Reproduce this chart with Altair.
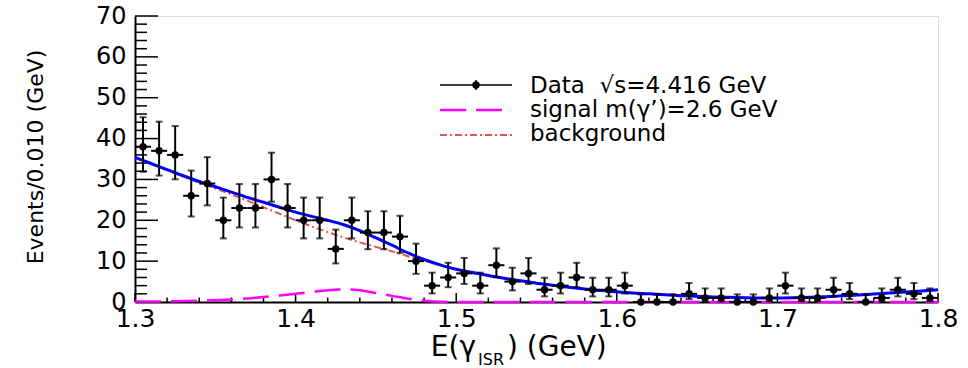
import altair as alt
import pandas as pd
import numpy as np

# ---------------- data ----------------
bin_centers = [1.305, 1.315, 1.325, 1.335, 1.345, 1.355, 1.365, 1.375, 1.385, 1.395,
               1.405, 1.415, 1.425, 1.435, 1.445, 1.455, 1.465, 1.475, 1.485, 1.495,
               1.505, 1.515, 1.525, 1.535, 1.545, 1.555, 1.565, 1.575, 1.585, 1.595,
               1.605, 1.615, 1.625, 1.635, 1.645, 1.655, 1.665, 1.675, 1.685, 1.695,
               1.705, 1.715, 1.725, 1.735, 1.745, 1.755, 1.765, 1.775, 1.785, 1.795]
counts = [38, 37, 36, 26, 29, 20, 23, 23, 30, 23,
          20, 20, 13, 20, 17, 17, 16, 10, 4, 6,
          7, 4, 9, 5, 7, 3, 4, 6, 3, 3,
          4, 0, 0, 0, 2, 1, 1, 0, 0, 1,
          4, 1, 1, 3, 2, 0, 1, 3, 2, 1]

curve_x = [1.30, 1.31, 1.32, 1.33, 1.34, 1.35, 1.36, 1.37, 1.38, 1.39,
           1.40, 1.41, 1.42, 1.43, 1.44, 1.45, 1.46, 1.47, 1.48, 1.49,
           1.50, 1.51, 1.52, 1.53, 1.54, 1.55, 1.56, 1.57, 1.58, 1.59,
           1.60, 1.61, 1.62, 1.63, 1.64, 1.65, 1.66, 1.67, 1.68, 1.69,
           1.70, 1.71, 1.72, 1.73, 1.74, 1.75, 1.76, 1.77, 1.78, 1.79, 1.80]
total_fit = [35.4, 33.9, 32.4, 30.9, 29.5, 28.2, 26.9, 25.6, 24.4, 23.2,
             22.0, 20.95, 20.0, 18.9, 17.45, 15.7, 13.9, 12.0, 10.4, 9.1,
             8.0, 7.2, 6.5, 5.8, 5.2, 4.6, 4.1, 3.6, 3.2, 2.8,
             2.5, 2.2, 2.0, 1.75, 1.55, 1.4, 1.25, 1.15, 1.05, 1.0,
             1.0, 1.05, 1.15, 1.3, 1.5, 1.7, 1.95, 2.2, 2.45, 2.7, 3.0]
background = [35.3, 33.8, 32.2, 30.7, 29.2, 27.8, 26.3, 24.8, 23.2, 21.6,
              20.0, 18.5, 17.1, 15.8, 14.6, 13.5, 12.4, 11.2, 10.1, 9.0,
              8.0, 7.2, 6.5, 5.8, 5.2, 4.6, 4.1, 3.6, 3.2, 2.8,
              2.5, 2.2, 2.0, 1.75, 1.55, 1.4, 1.25, 1.15, 1.05, 1.0,
              1.0, 1.05, 1.15, 1.3, 1.5, 1.7, 1.95, 2.2, 2.45, 2.7, 3.0]
signal = [0.1, 0.12, 0.16, 0.22, 0.3, 0.42, 0.6, 0.85, 1.2, 1.6,
          2.0, 2.45, 2.9, 3.1, 2.85, 2.2, 1.5, 0.8, 0.3, 0.08,
          0.0, 0.0, 0.0, 0.0, 0.0, 0.0, 0.0, 0.0, 0.0, 0.0,
          0.0, 0.0, 0.0, 0.0, 0.0, 0.0, 0.0, 0.0, 0.0, 0.0,
          0.0, 0.0, 0.0, 0.0, 0.0, 0.0, 0.0, 0.0, 0.0, 0.0, 0.0]

legend_labels = ["Data\u00a0\u00a0\u221as=4.416 GeV", "signal m(\u03b3\u2019)=2.6 GeV", "background"]

y_major = [0, 10, 20, 30, 40, 50, 60, 70]
y_minor = [v for v in range(0, 71, 2) if v % 10 != 0]
x_major = [1.3, 1.4, 1.5, 1.6, 1.7, 1.8]
x_minor = [1.32, 1.34, 1.36, 1.38, 1.42, 1.44, 1.46, 1.48, 1.52, 1.54, 1.56, 1.58,
           1.62, 1.64, 1.66, 1.68, 1.72, 1.74, 1.76, 1.78]
bin_half_width = 0.005

# Poisson (Gehrels 1-sigma) error bars, as drawn for the data histogram
cnt = np.array(counts, dtype=float)
err_hi = cnt + 1.0 + np.sqrt(cnt + 0.75)
safe = np.maximum(cnt, 1)
err_lo = np.where(cnt > 0, cnt * (1 - 1 / (9 * safe) - 1 / (3 * np.sqrt(safe))) ** 3, 0.0)

data_df = pd.DataFrame({
    "x": bin_centers, "n": counts, "lo": err_lo, "hi": err_hi,
    "xl": np.array(bin_centers) - bin_half_width, "xr": np.array(bin_centers) + bin_half_width,
})
curve_df = pd.DataFrame({"x": curve_x, "total": total_fit, "bg": background, "sig": signal})

W, H = 803, 286
FONT = "DejaVu Sans"

xscale = alt.Scale(domain=[1.3, 1.8], nice=False, zero=False)
yscale = alt.Scale(domain=[0, 70], nice=False)

xaxis = alt.Axis(values=x_major, format=".1f", ticks=False, grid=False, title=None,
                 labelFont=FONT, labelFontSize=25, labelPadding=4, labelColor="black",
                 domainColor="black", domainWidth=2, labelFlush=False)
yaxis = alt.Axis(values=y_major, format="d", ticks=False, grid=False, title=None,
                 labelFont=FONT, labelFontSize=24, labelPadding=9, labelColor="black",
                 domainColor="black", domainWidth=2)

base = alt.Chart(data_df)

# invisible layer carrying axes
axes_layer = alt.Chart(curve_df).mark_line(opacity=0).encode(
    x=alt.X("x:Q", scale=xscale, axis=xaxis),
    y=alt.Y("total:Q", scale=yscale, axis=yaxis),
)

# inside ticks
ymaj = alt.Chart(pd.DataFrame({"v": y_major})).mark_rule(color="black", strokeWidth=1.5).encode(
    y=alt.Y("v:Q", scale=yscale), x=alt.value(0), x2=alt.value(23))
ymin = alt.Chart(pd.DataFrame({"v": y_minor})).mark_rule(color="black", strokeWidth=1.5).encode(
    y=alt.Y("v:Q", scale=yscale), x=alt.value(0), x2=alt.value(12))
xmaj = alt.Chart(pd.DataFrame({"v": x_major})).mark_rule(color="black", strokeWidth=1.5).encode(
    x=alt.X("v:Q", scale=xscale), y=alt.value(H), y2=alt.value(H - 9))
xmin = alt.Chart(pd.DataFrame({"v": x_minor})).mark_rule(color="black", strokeWidth=1.5).encode(
    x=alt.X("v:Q", scale=xscale), y=alt.value(H), y2=alt.value(H - 4.5))

# fit curves
bg_line = alt.Chart(curve_df).mark_line(color="#e05555", strokeWidth=2, strokeDash=[7, 3, 2, 3],
                                        interpolate="monotone").encode(
    x=alt.X("x:Q", scale=xscale), y=alt.Y("bg:Q", scale=yscale))
sig_line = alt.Chart(curve_df).mark_line(color="#ff00ff", strokeWidth=2.5, strokeDash=[26, 10],
                                         interpolate="monotone").encode(
    x=alt.X("x:Q", scale=xscale), y=alt.Y("sig:Q", scale=yscale))
tot_line = alt.Chart(curve_df).mark_line(color="#0000ff", strokeWidth=3,
                                         interpolate="monotone").encode(
    x=alt.X("x:Q", scale=xscale), y=alt.Y("total:Q", scale=yscale))

# data points with error bars
vbars = base.mark_rule(color="black", strokeWidth=2).encode(
    x=alt.X("x:Q", scale=xscale), y=alt.Y("lo:Q", scale=yscale), y2="hi:Q")
hbars = base.mark_rule(color="black", strokeWidth=2).encode(
    x=alt.X("xl:Q", scale=xscale), x2="xr:Q", y=alt.Y("n:Q", scale=yscale))
cap_hi = base.mark_tick(color="black", orient="horizontal", size=7, thickness=2).encode(
    x=alt.X("x:Q", scale=xscale), y=alt.Y("hi:Q", scale=yscale))
cap_lo = base.mark_tick(color="black", orient="horizontal", size=7, thickness=2).encode(
    x=alt.X("x:Q", scale=xscale), y=alt.Y("lo:Q", scale=yscale))
pts = base.mark_circle(color="black", size=55, opacity=1).encode(
    x=alt.X("x:Q", scale=xscale), y=alt.Y("n:Q", scale=yscale))

# legend (drawn manually, ROOT-style)
one = pd.DataFrame({"a": [0]})
LX0, LX1, LXC, TX = 305, 377, 341, 395
leg_data_line = alt.Chart(one).mark_rule(color="black", strokeWidth=1.5).encode(
    x=alt.value(LX0), x2=alt.value(LX1), y=alt.value(69))
leg_data_vbar = alt.Chart(one).mark_rule(color="black", strokeWidth=1.5).encode(
    x=alt.value(LXC), y=alt.value(64), y2=alt.value(74))
leg_data_pt = alt.Chart(one).mark_circle(color="black", size=55, opacity=1).encode(
    x=alt.value(LXC), y=alt.value(69))
leg_sig = alt.Chart(one).mark_rule(color="#ff00ff", strokeWidth=2.5, strokeDash=[26, 10]).encode(
    x=alt.value(LX0), x2=alt.value(LX1), y=alt.value(94))
leg_bg = alt.Chart(one).mark_rule(color="#e05555", strokeWidth=2, strokeDash=[7, 3, 2, 3]).encode(
    x=alt.value(LX0), x2=alt.value(LX1), y=alt.value(119))


def label(txt, x, y, size, align="left", angle=None, font=FONT):
    kw = dict(font=font, fontSize=size, align=align, baseline="alphabetic", color="black")
    if angle is not None:
        kw["angle"] = angle
        kw["baseline"] = "middle"
    return alt.Chart(pd.DataFrame({"t": [txt]})).mark_text(**kw).encode(
        text="t:N", x=alt.value(x), y=alt.value(y))


leg_t1 = label(legend_labels[0], TX, 77, 23)
leg_t2 = label(legend_labels[1], TX, 101, 23)
leg_t3 = label(legend_labels[2], TX, 125, 23)

# axis titles
xtitle_parts = ["E(\u03b3", "ISR", ") (GeV)"]
xt1 = label(xtitle_parts[0], 341, 340, 28, align="right")
xt2 = label(xtitle_parts[1], 343, 349, 16)
xt3 = label(xtitle_parts[2], 372, 340, 28)
ytitle = label("Events/0.010 (GeV)", -99, 141, 22, align="center", angle=270)

chart = alt.layer(
    axes_layer, ymaj, ymin, xmaj, xmin,
    bg_line, sig_line, tot_line,
    vbars, hbars, cap_hi, cap_lo, pts,
    leg_data_line, leg_data_vbar, leg_data_pt, leg_sig, leg_bg,
    leg_t1, leg_t2, leg_t3,
    xt1, xt2, xt3, ytitle,
).properties(
    width=W, height=H,
    autosize="none",
    padding={"left": 135, "top": 16, "right": 30, "bottom": 66},
).configure_view(
    stroke="#222222", strokeWidth=2
).configure(background="white")

chart.save("out.html", embed_options={"renderer": "svg", "actions": False})
